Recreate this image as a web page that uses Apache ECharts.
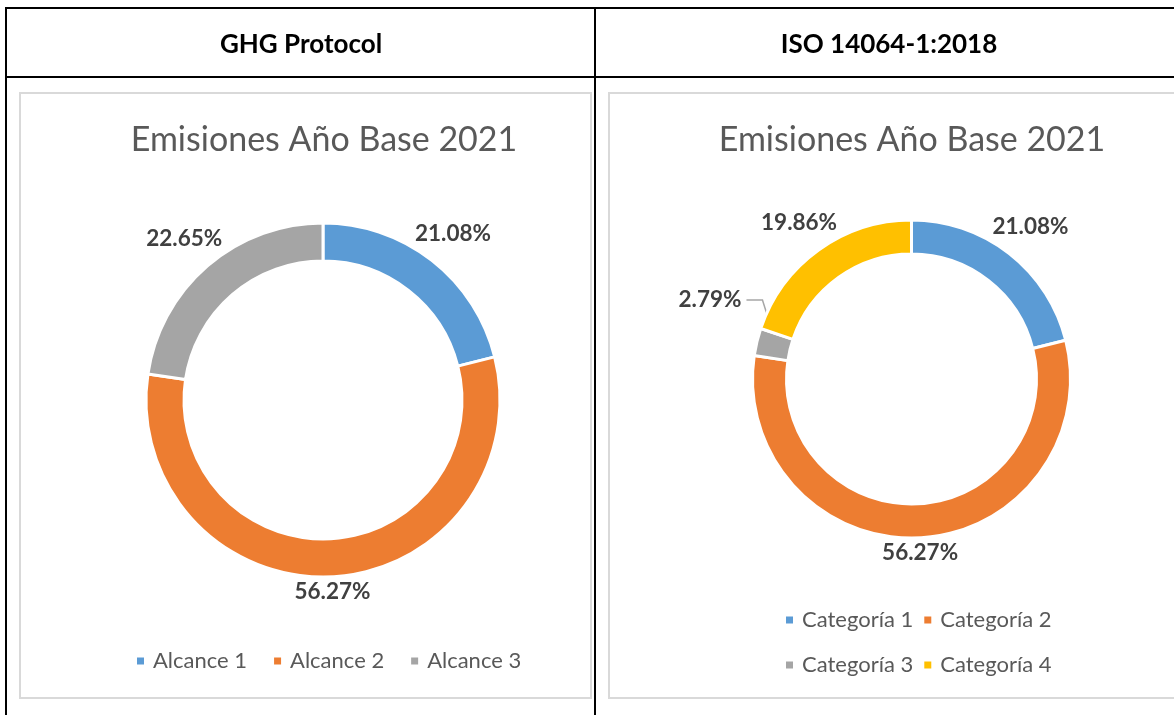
<!DOCTYPE html>
<html><head><meta charset="utf-8">
<script src="https://cdn.jsdelivr.net/npm/echarts@6/dist/echarts.min.js"></script>
<style>html,body{margin:0;padding:0;background:#fff}#c{width:1174px;height:715px}</style>
</head><body><div id="c"></div>
<script>
// ---- data ----
const headers = ['GHG Protocol', 'ISO 14064-1:2018'];
const chartTitle = 'Emisiones Año Base 2021';
const ghgCategories = ['Alcance 1', 'Alcance 2', 'Alcance 3'];
const ghgValues = [21.08, 56.27, 22.65];
const isoCategories = ['Categoría 1', 'Categoría 2', 'Categoría 3', 'Categoría 4'];
const isoValues = [21.08, 56.27, 2.79, 19.86];
const palette = ['#5B9BD5', '#ED7D31', '#A5A5A5', '#FFC000'];

const chart = echarts.init(document.getElementById('c'), null, {renderer: 'canvas'});
const FONT = 'Lato';

// Excel-like "outside" label placement computed from the library's slice layout
function excelLabelLayout(params) {
  const data = chart.getModel().getSeriesByIndex(params.seriesIndex).getData();
  const lay = data.getItemLayout(params.dataIndex);
  const w = params.labelRect.width, h = params.labelRect.height;
  const hw = w / 2, hh = h / 2;
  const span = Math.abs(lay.endAngle - lay.startAngle);
  const mid = (lay.startAngle + lay.endAngle) / 2;
  if (span < Math.PI * 2 * 0.05) {
    const a = lay.endAngle;
    const c = Math.cos(a), s = Math.sin(a);
    const D = lay.r + 20 + hw * Math.abs(c) + hh * Math.abs(s);
    const x = lay.cx + D * c, y = lay.cy + D * s - hh;
    const side = c < 0 ? 1 : -1;
    const edge = [x + side * (hw + 5), y];
    const elbow = [edge[0] + side * 16, y];
    const ea = (mid + lay.endAngle) / 2, er = (lay.r + lay.r0) / 2;
    const end = [lay.cx + er * Math.cos(ea), lay.cy + er * Math.sin(ea)];
    return {x: x, y: y, align: 'center', verticalAlign: 'middle', labelLinePoints: [edge, elbow, end]};
  }
  const c = Math.cos(mid), s = Math.sin(mid);
  const D = lay.r + 2 + hw * Math.abs(c) + hh * Math.abs(s);
  return {x: lay.cx + D * c, y: lay.cy + D * s, align: 'center', verticalAlign: 'middle'};
}

function pieSeries(names, values, center, radius) {
  return {
    type: 'pie', center: center, radius: radius, startAngle: 90, clockwise: true,
    avoidLabelOverlap: false, silent: true,
    itemStyle: {borderColor: '#fff', borderWidth: 3},
    label: {show: true, position: 'outside', formatter: p => p.value.toFixed(2) + '%',
      fontFamily: FONT, fontWeight: 'bold', fontSize: 22.5, color: '#404040'},
    labelLine: {show: false, length: 10, length2: 10, lineStyle: {color: '#A6A6A6', width: 1.5}},
    labelLayout: excelLabelLayout,
    data: names.map((n, i) => ({name: n, value: values[i],
      itemStyle: {color: palette[i]},
      labelLine: {show: values[i] < 5}}))
  };
}

const legendText = {fontFamily: FONT, fontSize: 22, color: '#595959', padding: [0, 0, 0, 3]};
const legendBase = {icon: 'rect', itemWidth: 9, itemHeight: 9, orient: 'horizontal', selectedMode: false, padding: 0, textStyle: legendText};

const lineStyle = {stroke: '#000', lineWidth: 2};
const boxStyle = {stroke: '#D9D9D9', lineWidth: 2, fill: 'none'};
const headStyle = {fontFamily: FONT, fontWeight: 'bold', fontSize: 26, color: '#000'};
const titleStyle = {fontFamily: FONT, fontWeight: 'normal', fontSize: 34, color: '#595959'};

chart.setOption({
  backgroundColor: '#fff',
  animation: false,
  title: [
    {text: headers[0], left: 301, top: 45, textAlign: 'center', textVerticalAlign: 'middle', padding: 0, textStyle: headStyle},
    {text: headers[1], left: 889, top: 45, textAlign: 'center', textVerticalAlign: 'middle', padding: 0, textStyle: headStyle},
    {text: chartTitle, left: 324, top: 140, textAlign: 'center', textVerticalAlign: 'middle', padding: 0, textStyle: titleStyle},
    {text: chartTitle, left: 912, top: 140, textAlign: 'center', textVerticalAlign: 'middle', padding: 0, textStyle: titleStyle}
  ],
  legend: [
    Object.assign({}, legendBase, {data: ghgCategories, left: 135, top: 650, itemGap: 25}),
    Object.assign({}, legendBase, {data: isoCategories.slice(0, 2), left: 784, top: 609, itemGap: 9}),
    Object.assign({}, legendBase, {data: isoCategories.slice(2), left: 784, top: 654, itemGap: 9})
  ],
  graphic: [
    {type: 'line', shape: {x1: 5, y1: 8, x2: 1174, y2: 8}, style: lineStyle, silent: true},
    {type: 'line', shape: {x1: 5, y1: 77, x2: 1174, y2: 77}, style: lineStyle, silent: true},
    {type: 'line', shape: {x1: 6, y1: 7, x2: 6, y2: 715}, style: lineStyle, silent: true},
    {type: 'line', shape: {x1: 595, y1: 7, x2: 595, y2: 715}, style: lineStyle, silent: true},
    {type: 'rect', shape: {x: 20, y: 93, width: 571, height: 605}, style: boxStyle, silent: true, z: -1},
    {type: 'rect', shape: {x: 609, y: 93, width: 620, height: 605}, style: boxStyle, silent: true, z: -1}
  ],
  series: [
    pieSeries(ghgCategories, ghgValues, [323, 400], [139, 177]),
    pieSeries(isoCategories, isoValues, [911.5, 379], [125, 159])
  ]
});
</script>
</body></html>
